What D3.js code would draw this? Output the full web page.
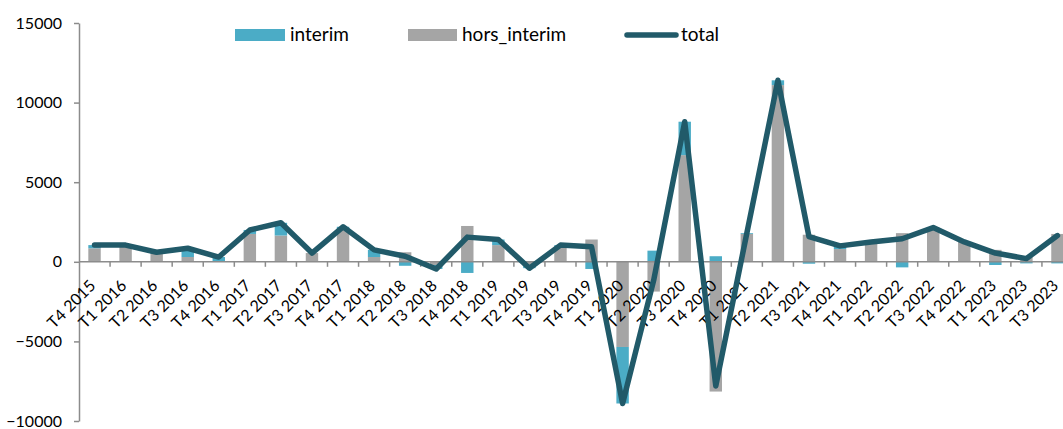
<!DOCTYPE html>
<html>
<head>
<meta charset="utf-8">
<script src="https://cdn.jsdelivr.net/npm/d3@7"></script>
<style>
  html, body { margin: 0; padding: 0; background: #fff; }
  svg { display: block; font-family: Lato, "Liberation Sans", sans-serif; }
</style>
</head>
<body>
<div id="chart"></div>
<script>
const categories = [
  'T4 2015', 'T1 2016', 'T2 2016', 'T3 2016', 'T4 2016', 'T1 2017', 'T2 2017', 'T3 2017',
  'T4 2017', 'T1 2018', 'T2 2018', 'T3 2018', 'T4 2018', 'T1 2019', 'T2 2019', 'T3 2019',
  'T4 2019', 'T1 2020', 'T2 2020', 'T3 2020', 'T4 2020', 'T1 2021', 'T2 2021', 'T3 2021',
  'T4 2021', 'T1 2022', 'T2 2022', 'T3 2022', 'T4 2022', 'T1 2023', 'T2 2023', 'T3 2023'
];
const interim = [200, 50, 100, 550, 250, 250, 800, 0, 200, 450, -250, -250, -700, 350, -150, 50,
  -450, -3550, 700, 2100, 350, 50, 300, -120, 200, 0, -350, 50, 0, -200, -100, -100];
const horsInterim = [850, 1000, 500, 300, 50, 1750, 1650, 550, 2000, 300, 600, -200, 2250, 1050, -250, 1000,
  1400, -5350, -1870, 6700, -8150, 1750, 11100, 1700, 800, 1250, 1800, 2100, 1250, 750, 300, 1750];
const total = [1050, 1050, 600, 850, 300, 2000, 2450, 550, 2200, 750, 350, -450, 1550, 1400, -400, 1050,
  950, -8900, -1170, 8800, -7800, 1800, 11400, 1580, 1000, 1250, 1450, 2150, 1250, 550, 200, 1650];
const yTicks = [-10000, -5000, 0, 5000, 10000, 15000];

const width = 1063;
const height = 429;
const colors = { interim: '#4bacc6', hors_interim: '#a5a5a5', total: '#215a69' };
const axisColor = '#8c8c8c';

const rows = categories.map((c, i) => ({ cat: c, interim: interim[i], hors_interim: horsInterim[i], total: total[i] }));

// plot runs past the right edge, like the cropped original
const xScale = d3.scaleBand()
  .domain(categories)
  .range([79, 1073]);

const yScale = d3.scaleLinear()
  .domain([-10000, 15000])
  .range([421, 23]);

const svg = d3.select('#chart')
  .append('svg')
    .attr('width', width)
    .attr('height', height);

// stacked bars, gray nearest zero
const stack = d3.stack()
  .keys(['hors_interim', 'interim'])
  .offset(d3.stackOffsetDiverging);

const barW = xScale.bandwidth() * 0.4;

svg.append('g')
  .selectAll('g')
  .data(stack(rows))
  .enter().append('g')
    .attr('fill', d => colors[d.key])
  .selectAll('rect')
  .data(d => d)
  .enter().append('rect')
    .attr('x', d => xScale(d.data.cat) + (xScale.bandwidth() - barW) / 2)
    .attr('y', d => yScale(Math.max(d[0], d[1])))
    .attr('width', barW)
    .attr('height', d => Math.abs(yScale(d[0]) - yScale(d[1])));

// y axis
const yAxis = d3.axisLeft(yScale)
  .tickValues(yTicks)
  .tickSize(5)
  .tickSizeOuter(0)
  .tickPadding(12)
  .tickFormat(d3.format('d'));

const gy = svg.append('g')
  .attr('transform', 'translate(79, 0)')
  .call(yAxis);
gy.select('.domain').attr('stroke', axisColor).attr('stroke-width', 1.5);
gy.selectAll('.tick line').attr('stroke', axisColor).attr('stroke-width', 1.5);
gy.selectAll('.tick text')
  .attr('fill', '#000')
  .style('font-size', '16px')
  .style('font-family', 'Lato, sans-serif');

// x axis at zero, ticks between categories
const y0 = yScale(0);
const gx = svg.append('g');
gx.append('line')
  .attr('x1', xScale.range()[0])
  .attr('x2', xScale.range()[1])
  .attr('y1', y0)
  .attr('y2', y0)
  .attr('stroke', axisColor)
  .attr('stroke-width', 1.5);

gx.selectAll('.xtick')
  .data(categories.slice(1))
  .enter().append('line')
    .attr('class', 'xtick')
    .attr('x1', d => xScale(d))
    .attr('x2', d => xScale(d))
    .attr('y1', y0)
    .attr('y2', y0 + 5)
    .attr('stroke', axisColor)
    .attr('stroke-width', 1.5);

gx.selectAll('.xlabel')
  .data(categories)
  .enter().append('text')
    .attr('class', 'xlabel')
    .attr('transform', d => `translate(${xScale(d) + xScale.bandwidth() / 2 - 2}, ${y0 + 21}) rotate(-45)`)
    .attr('text-anchor', 'end')
    .attr('dy', '0.35em')
    .style('font-size', '16px')
    .attr('fill', '#000')
    .text(d => d);

// total line
const line = d3.line()
  .x(d => xScale(d.cat) + xScale.bandwidth() / 2)
  .y(d => yScale(d.total));

svg.append('path')
  .datum(rows)
  .attr('fill', 'none')
  .attr('stroke', colors.total)
  .attr('stroke-width', 5.5)
  .attr('stroke-linejoin', 'round')
  .attr('stroke-linecap', 'round')
  .attr('d', line);

// legend
const legend = svg.append('g').style('font-size', '19px');

legend.append('rect').attr('x', 235).attr('y', 29).attr('width', 50).attr('height', 12).attr('fill', colors.interim);
legend.append('text').attr('x', 290).attr('y', 41).text('interim');

legend.append('rect').attr('x', 408).attr('y', 29).attr('width', 49).attr('height', 12).attr('fill', colors.hors_interim);
legend.append('text').attr('x', 462).attr('y', 41).text('hors_interim');

legend.append('line')
  .attr('x1', 627).attr('x2', 676).attr('y1', 35).attr('y2', 35)
  .attr('stroke', colors.total).attr('stroke-width', 5.5).attr('stroke-linecap', 'round');
legend.append('text').attr('x', 681).attr('y', 41).text('total');
</script>
</body>
</html>
